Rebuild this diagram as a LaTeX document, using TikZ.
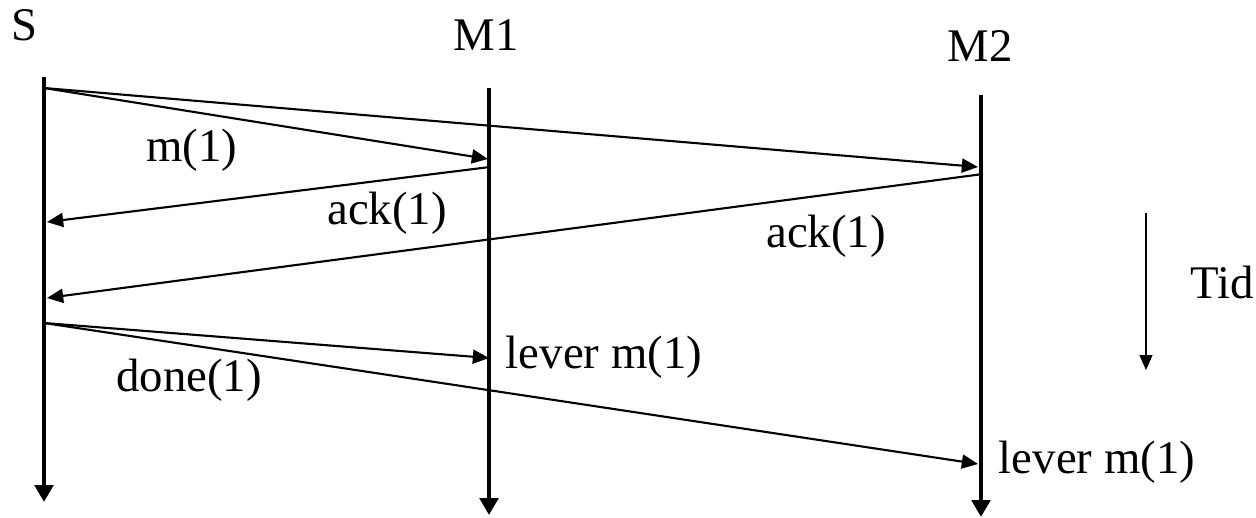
\documentclass[tikz,border=0pt]{standalone}
\usepackage{fontspec}
\setmainfont{Liberation Serif}
\usetikzlibrary{arrows.meta}

\begin{document}
\begin{tikzpicture}[
    x=0.01cm, y=-0.01cm,
    % Node styles
    proc/.style={
        font=\fontsize{13.3}{16}\selectfont, inner sep=0pt, text=black
    },
    msglabel/.style={
        font=\fontsize{13.3}{16}\selectfont, inner sep=0pt, text=black
    },
    lifeline/.style={
        -{Triangle[length=4.8pt, width=5.2pt]}, line width=1.4pt, black
    },
    msg/.style={
        -{Triangle[length=4.6pt, width=4pt]}, line width=0.6pt, black
    },
    timearrow/.style={
        -{Triangle[length=4.2pt, width=3.6pt]}, line width=0.45pt, black
    }
]
\useasboundingbox (0,0) rectangle (1256,518);

% --- Process names ---
\node[proc] (S) at (25,25) {S};
\node[proc] (M1) at (486,35) {M1};
\node[proc] (M2) at (980,46) {M2};

% --- Lifelines ---
\coordinate (Stop) at (44,77);
\coordinate (Sbot) at (44,502);
\coordinate (M1top) at (489,88);
\coordinate (M1bot) at (489,515);
\coordinate (M2top) at (981,95);
\coordinate (M2bot) at (981,517);
\draw[lifeline] (Stop) -- (Sbot);
\draw[lifeline] (M1top) -- (M1bot);
\draw[lifeline] (M2top) -- (M2bot);

% --- Message points ---
\coordinate (Ssend1) at (44,88);
\coordinate (M1recv1) at (488,159);
\coordinate (M2recv1) at (978,167);
\coordinate (M1ack) at (490,167);
\coordinate (Sack1) at (47,222);
\coordinate (M2ack) at (983,174);
\coordinate (Sack2) at (47,298);
\coordinate (Ssend2) at (44,323);
\coordinate (M1recv2) at (489,358);
\coordinate (M2recv2) at (978,464);

% --- Messages ---
\draw[msg] (Ssend1) -- (M1recv1);
\draw[msg] (Ssend1) -- (M2recv1);
\draw[msg] (M1ack) -- (Sack1);
\draw[msg] (M2ack) -- (Sack2);
\draw[msg] (Ssend2) -- (M1recv2);
\draw[msg] (Ssend2) -- (M2recv2);

% --- Message labels ---
\node[msglabel] (lbl_m) at (192,150) {m(1)};
\node[msglabel] (lbl_ack1) at (387,213) {ack(1)};
\node[msglabel] (lbl_ack2) at (826,236) {ack(1)};
\node[msglabel] (lbl_done) at (189,380) {done(1)};
\node[msglabel] (lbl_lev1) at (604,357) {lever m(1)};
\node[msglabel] (lbl_lev2) at (1097,462) {lever m(1)};

% --- Time axis ---
\coordinate (Ttop) at (1146,213);
\coordinate (Tbot) at (1146,370);
\draw[timearrow] (Ttop) -- (Tbot);
\node[proc] (tid) at (1222,283) {Tid};

\end{tikzpicture}
\end{document}
